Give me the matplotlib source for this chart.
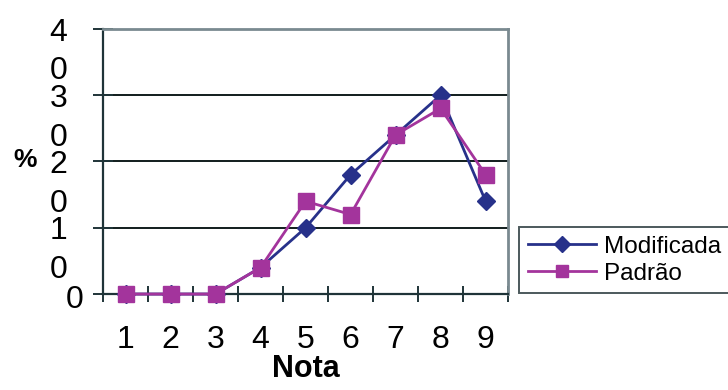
import matplotlib
matplotlib.use("Agg")
import matplotlib.pyplot as plt
import numpy as np

plt.rcParams["font.family"] = ["Liberation Sans", "DejaVu Sans"]

notas = [1, 2, 3, 4, 5, 6, 7, 8, 9]
modificada = [0, 0, 0, 4, 10, 18, 24, 30, 14]
padrao = [0, 0, 0, 4, 14, 12, 24, 28, 18]
y_ticks = [0, 10, 20, 30, 40]
y_labels = ["0", "1\n0", "2\n0", "3\n0", "4\n0"]

C_MOD = "#27318a"
C_PAD = "#a3349c"
C_AX = "#1f3438"

fig = plt.figure(figsize=(7.28, 3.90), dpi=100)
ax = fig.add_axes([0.1415, 0.246, 0.5565, 0.68])

ax.plot(notas, modificada, color=C_MOD, lw=2.0, marker="D", ms=9,
        label="Modificada", zorder=3, clip_on=False)
ax.plot(notas, padrao, color=C_PAD, lw=2.0, marker="s", ms=12,
        label="Padrão", zorder=4, clip_on=False)

ax.set_xlim(0.5, 9.5)
ax.set_ylim(0, 40)

# horizontal grid lines at the major values
for v in y_ticks[1:-1]:
    ax.axhline(v, color="#101c1c", lw=1.4, zorder=1)

for side in ["left", "bottom"]:
    ax.spines[side].set_color(C_AX)
    ax.spines[side].set_linewidth(1.6)
for side in ["top", "right"]:
    ax.spines[side].set_color("#7a8a90")
    ax.spines[side].set_linewidth(2.0)

# x categories: ticks between categories, labels at centres
ax.set_xticks(notas)
ax.set_xticklabels([str(n) for n in notas], fontsize=23)
ax.tick_params(axis="x", which="major", length=0, pad=22)
ax.set_xticks(np.arange(0.5, 10.0, 1.0), minor=True)
ax.tick_params(axis="x", which="minor", direction="inout", length=11,
               width=1.4, color=C_AX)

# y ticks crossing the axis, wrapped labels drawn beside them
ax.set_yticks(y_ticks)
ax.set_yticklabels([])
ax.tick_params(axis="y", direction="inout", length=14, width=1.4, color=C_AX)
for v, lab in zip(y_ticks, y_labels):
    if v == 0:
        ax.text(-0.048, v - 0.4, lab, transform=ax.get_yaxis_transform(),
                ha="right", va="center_baseline", fontsize=23)
    else:
        ax.text(-0.088, v + 1.7, lab, transform=ax.get_yaxis_transform(),
                ha="right", va="top", fontsize=23, linespacing=1.38)

fig.text(0.019, 0.59, "%", fontsize=19, fontweight="bold", ha="left",
         va="center")
ax.set_xlabel("Nota", fontsize=22, fontweight="bold")
ax.xaxis.set_label_coords(0.5, -0.225)

leg = ax.legend(loc="upper left", bbox_to_anchor=(1.027, 0.252),
                frameon=True, fancybox=False, fontsize=17.5, handlelength=2.8,
                handletextpad=0.35, borderpad=0.35, labelspacing=0.2,
                borderaxespad=0)
leg.get_frame().set_edgecolor("#1f2f33")
leg.get_frame().set_linewidth(1.4)
for h in leg.legend_handles:
    h.set_markersize(8)

fig.savefig("out.png", dpi=100)
